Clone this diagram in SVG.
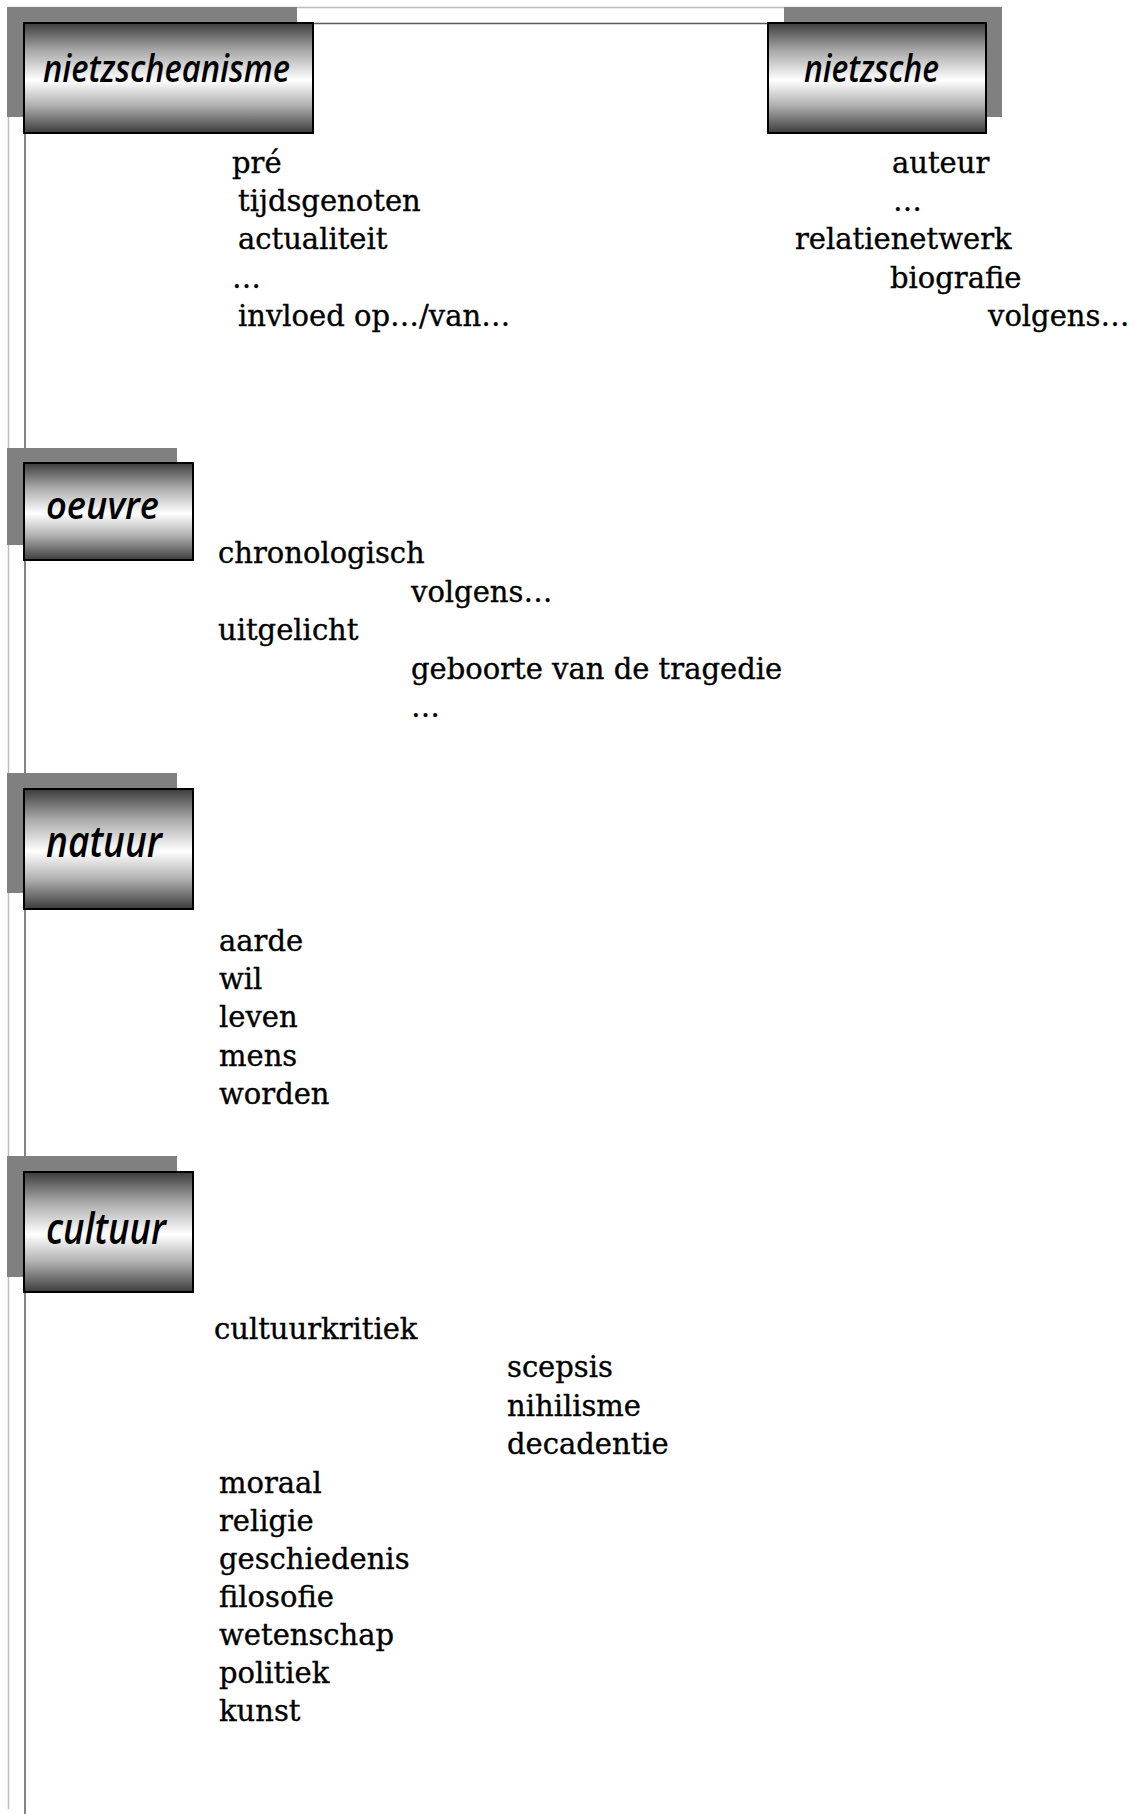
<svg xmlns="http://www.w3.org/2000/svg" width="1134" height="1814" viewBox="0 0 1134 1814">
<defs>
<linearGradient id="g" x1="0" y1="0" x2="0" y2="1">
<stop offset="0" stop-color="#3c3c3c"/>
<stop offset="0.25" stop-color="#a8a8a8"/>
<stop offset="0.52" stop-color="#ffffff"/>
<stop offset="0.75" stop-color="#b0b0b0"/>
<stop offset="1" stop-color="#3c3c3c"/>
</linearGradient>
<style>
.sh{fill:#808080}
.bx{fill:url(#g);stroke:#000;stroke-width:2}
.lb{font-family:"Open Sans","Noto Sans",sans-serif;font-style:italic;font-weight:600;font-size:38px;fill:#000}
.big{font-size:43px}
.t{font-family:"DejaVu Serif","Liberation Serif",serif;font-size:29px;fill:#000;stroke:#000;stroke-width:0.35}
</style>
</defs>
<rect width="1134" height="1814" fill="#fff"/>
<g id="frame">
<line x1="8.5" y1="7" x2="8.5" y2="1809" stroke="#bdbdbd" stroke-width="1.5"/>
<line x1="8" y1="7.5" x2="1002" y2="7.5" stroke="#bdbdbd" stroke-width="1.5"/>
<line x1="25" y1="23" x2="25" y2="1814" stroke="#5a5a5a" stroke-width="1.5"/>
<line x1="25" y1="23.5" x2="784" y2="23.5" stroke="#5a5a5a" stroke-width="1.5"/>
</g>
<g id="connectors"></g>
<g id="node-nietzscheanisme">
<rect class="sh" x="7" y="7" width="290" height="110"/>
<rect class="bx" x="24" y="23" width="289" height="110"/>
<text class="lb" x="43" y="82" textLength="247" lengthAdjust="spacingAndGlyphs">nietzscheanisme</text>
</g>
<g id="node-nietzsche">
<rect class="sh" x="784" y="7" width="218" height="110"/>
<rect class="bx" x="768" y="23" width="218" height="110"/>
<text class="lb" x="804" y="82" textLength="135" lengthAdjust="spacingAndGlyphs">nietzsche</text>
</g>
<g id="node-oeuvre">
<rect class="sh" x="7" y="448" width="170" height="97"/>
<rect class="bx" x="24" y="463" width="169" height="97"/>
<text class="lb" x="46" y="519" font-size="40" textLength="113" lengthAdjust="spacingAndGlyphs">oeuvre</text>
</g>
<g id="node-natuur">
<rect class="sh" x="7" y="773" width="170" height="120"/>
<rect class="bx" x="24" y="789" width="169" height="120"/>
<text class="lb big" x="46" y="857" textLength="116" lengthAdjust="spacingAndGlyphs">natuur</text>
</g>
<g id="node-cultuur">
<rect class="sh" x="7" y="1156" width="170" height="121"/>
<rect class="bx" x="24" y="1172" width="169" height="120"/>
<text class="lb big" x="46" y="1244" textLength="120" lengthAdjust="spacingAndGlyphs">cultuur</text>
</g>
<g id="list-nietzscheanisme">
<text class="t" x="232" y="173">pré</text>
<text class="t" x="238" y="211">tijdsgenoten</text>
<text class="t" x="238" y="249">actualiteit</text>
<text class="t" x="232" y="288">…</text>
<text class="t" x="238" y="326">invloed op…/van…</text>
</g>
<g id="list-nietzsche">
<text class="t" x="892" y="173">auteur</text>
<text class="t" x="893" y="211">…</text>
<text class="t" x="795" y="249">relatienetwerk</text>
<text class="t" x="890" y="288">biografie</text>
<text class="t" x="988" y="326">volgens…</text>
</g>
<g id="list-oeuvre">
<text class="t" x="218" y="563">chronologisch</text>
<text class="t" x="411" y="602">volgens…</text>
<text class="t" x="218" y="640">uitgelicht</text>
<text class="t" x="411" y="679">geboorte van de tragedie</text>
<text class="t" x="411" y="717">…</text>
</g>
<g id="list-natuur">
<text class="t" x="219" y="951">aarde</text>
<text class="t" x="219" y="989">wil</text>
<text class="t" x="219" y="1027">leven</text>
<text class="t" x="219" y="1066">mens</text>
<text class="t" x="219" y="1104">worden</text>
</g>
<g id="list-cultuur">
<text class="t" x="214" y="1339">cultuurkritiek</text>
<text class="t" x="507" y="1377">scepsis</text>
<text class="t" x="507" y="1416">nihilisme</text>
<text class="t" x="507" y="1454">decadentie</text>
<text class="t" x="219" y="1493">moraal</text>
<text class="t" x="219" y="1531">religie</text>
<text class="t" x="219" y="1569">geschiedenis</text>
<text class="t" x="219" y="1607">filosofie</text>
<text class="t" x="219" y="1645">wetenschap</text>
<text class="t" x="219" y="1683">politiek</text>
<text class="t" x="219" y="1721">kunst</text>
</g>
</svg>
